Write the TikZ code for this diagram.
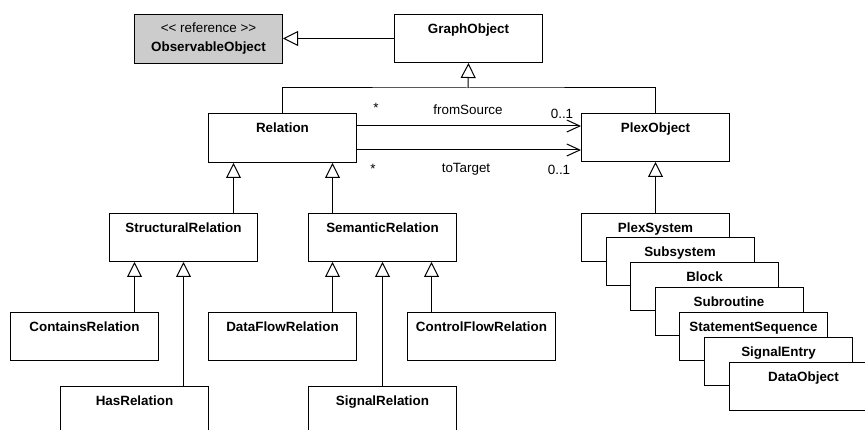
\documentclass[tikz,border=0pt]{standalone}
\usepackage{fontspec}
\setmainfont{Liberation Sans}
\usetikzlibrary{arrows.meta,calc}
\begin{document}
\begin{tikzpicture}[x=1pt,y=-1pt, line width=1pt,
  txt/.style={font=\fontsize{13.4}{16}\selectfont},
  cls/.style={draw, fill=white, inner sep=0pt, minimum width=148pt, text height=19pt, text depth=29pt, anchor=north west, font=\fontsize{13.4}{16}\selectfont\bfseries},
  gen/.style={-{Triangle[length=15pt,width=15pt,fill=white]}},
  assoc/.style={-{Straight Barb[length=13pt,width=12pt]}},
  mult/.style={anchor=base, inner sep=0pt, txt}]
\clip (0,0) rectangle (865,430);
% classes
\node[cls, fill=gray!40, text height=18pt, text depth=31pt, font=\fontsize{13.4}{16}\selectfont,
  label={[anchor=base, yshift=-38pt, inner sep=0pt, font=\fontsize{13.4}{16}\selectfont\bfseries]north:ObservableObject}]
  (obs) at (134,14) {<\kern0pt< reference >\kern0pt>};
\node[cls] (graph) at (394,14) {GraphObject};
\node[cls, text depth=30pt] (rel) at (208,113) {Relation};
\node[cls] (plex) at (581,113) {PlexObject};
\node[cls] (struct) at (109,213) {StructuralRelation};
\node[cls] (sem) at (308,213) {SemanticRelation};
\node[cls] (cont) at (10,312) {ContainsRelation};
\node[cls] (dflow) at (208,312) {DataFlowRelation};
\node[cls] (cflow) at (407,312) {ControlFlowRelation};
\node[cls] (has) at (60,386) {HasRelation};
\node[cls] (sig) at (308,386) {SignalRelation};
% stacked plex classes
\node[cls] (psys) at (581,213) {PlexSystem};
\node[cls] (subsys) at (605.5,237.5) {Subsystem};
\node[cls] (block) at (630,262) {Block};
\node[cls] (subr) at (654.5,287) {Subroutine};
\node[cls] (stmt) at (679,312) {StatementSequence};
\node[cls] (sige) at (704,337) {SignalEntry};
\node[cls] (dobj) at (729,362) {DataObject};
% generalizations
\draw[gen] (graph.west) -- (obs.east |- graph.west);
\coordinate (j) at (468,88);
\draw (rel.north) |- (j) -| (plex.north);
\draw[gen] (j) -- (graph.south);
\draw[gen] ($(struct.north)+(50,0)$) -- ($(rel.south)+(-49,0)$);
\draw[gen] ($(sem.north)+(-50,0)$) -- ($(rel.south)+(50,0)$);
\draw[gen] ($(cont.north)+(50,0)$) -- ($(struct.south)+(-49,0)$);
\draw[gen] ($(has.north)+(49,0)$) -- (struct.south);
\draw[gen] ($(dflow.north)+(50,0)$) -- ($(sem.south)+(-50,0)$);
\draw[gen] (sig.north) -- (sem.south);
\draw[gen] ($(cflow.north)+(-50,0)$) -- ($(sem.south)+(49,0)$);
\draw[gen] (psys.north) -- (plex.south);
% associations
\draw[assoc] ($(rel.north east)+(0,13)$) coordinate (a1) -- (a1 -| plex.west);
\draw[assoc] ($(rel.north east)+(0,37)$) coordinate (a2) -- (a2 -| plex.west);
\node[mult] (m1) at (376,113) {*};
\node[mult] (n1) at (468,115) {fromSource};
\node[mult] (t1) at (562,119) {0..1};
\node[mult] (m2) at (373,174) {*};
\node[mult] (n2) at (466,173) {toTarget};
\node[mult] (t2) at (559,175) {0..1};
\end{tikzpicture}
\end{document}
